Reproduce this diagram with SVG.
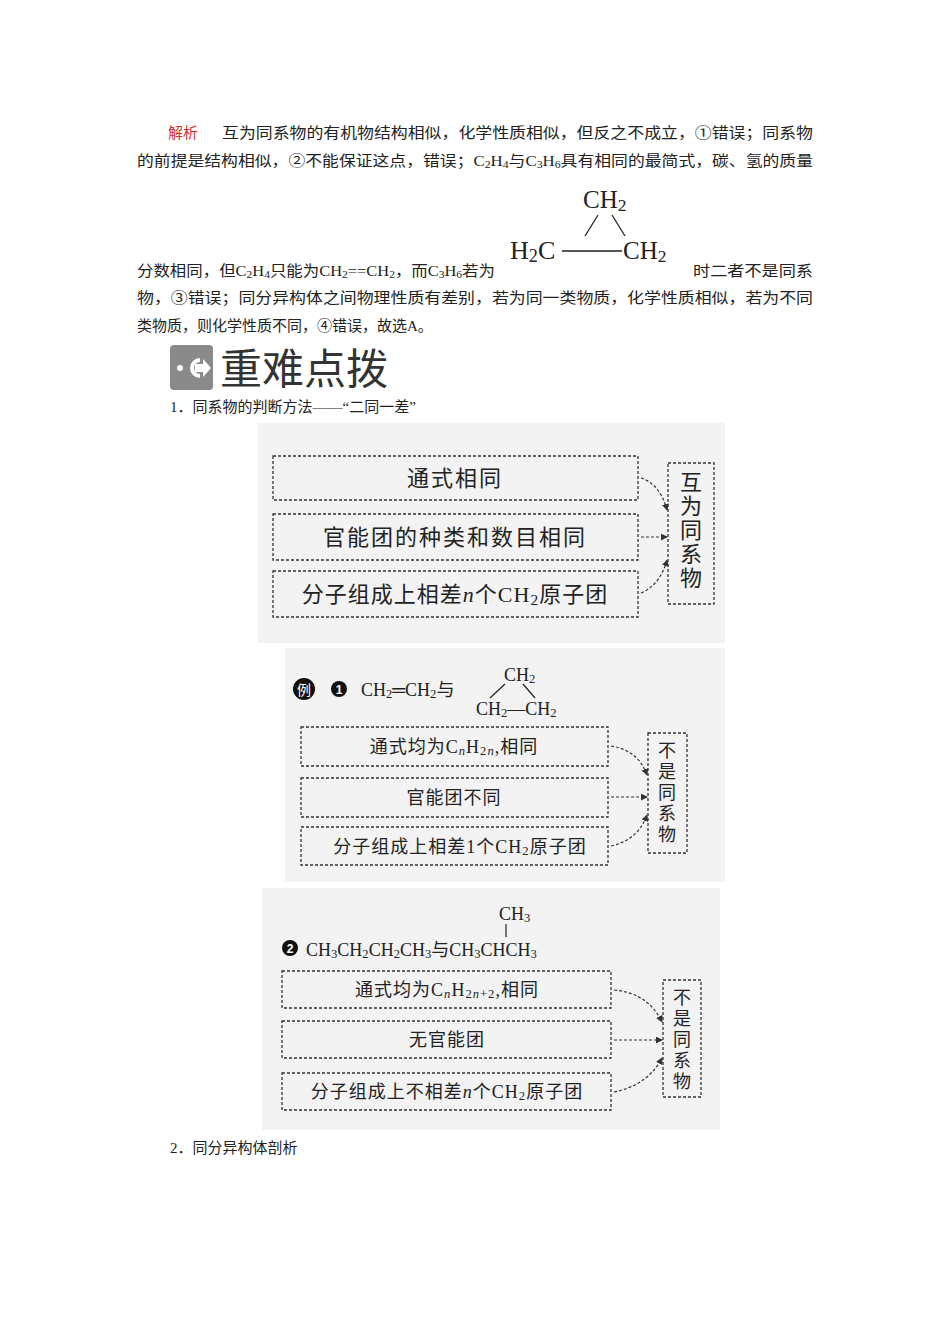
<svg xmlns="http://www.w3.org/2000/svg" width="950" height="1344" viewBox="0 0 950 1344">
<style>
.t{font-family:"Liberation Serif","Noto Sans CJK SC",serif;fill:#222}
.p{font-size:15px}
.b{fill:none;stroke:#333;stroke-width:1.3;stroke-dasharray:3,2}
.c{fill:none;stroke:#333;stroke-width:1.2;stroke-dasharray:3,2;marker-end:url(#a)}
.bg{fill:#f3f3f3}
.s{font-size:70%;baseline-shift:-18%}
</style>
<defs><marker id="a" viewBox="0 0 8 8" refX="7" refY="4" markerWidth="7" markerHeight="7" orient="auto" markerUnits="userSpaceOnUse"><path d="M0,0L8,4L0,8z" fill="#333"/></marker></defs>
<rect width="950" height="1344" fill="#fff"/>
<g id="para">
<text class="t p" x="168" y="138"><tspan fill="#d03030">解析</tspan></text>
<text class="t p" x="222" y="138" textLength="591" lengthAdjust="spacingAndGlyphs">互为同系物的有机物结构相似，化学性质相似，但反之不成立，①错误；同系物</text>
<text class="t p" x="137" y="166" textLength="676" lengthAdjust="spacingAndGlyphs">的前提是结构相似，②不能保证这点，错误；C<tspan class="s">2</tspan>H<tspan class="s">4</tspan>与C<tspan class="s">3</tspan>H<tspan class="s">6</tspan>具有相同的最简式，碳、氢的质量</text>
<text class="t p" x="137" y="276" textLength="358" lengthAdjust="spacingAndGlyphs">分数相同，但C<tspan class="s">2</tspan>H<tspan class="s">4</tspan>只能为CH<tspan class="s">2</tspan>==CH<tspan class="s">2</tspan>，而C<tspan class="s">3</tspan>H<tspan class="s">6</tspan>若为</text>
<text class="t" x="583" y="208" font-size="25">CH<tspan class="s">2</tspan></text>
<text class="t" x="510" y="259" font-size="26">H<tspan class="s">2</tspan>C</text>
<text class="t" x="623" y="259" font-size="25">CH<tspan class="s">2</tspan></text>
<path d="M598,215L585,236M612,215L625,236M562,251L622,251" stroke="#222" stroke-width="1.3" fill="none"/>
<text class="t p" x="693" y="276" textLength="120" lengthAdjust="spacingAndGlyphs">时二者不是同系</text>
<text class="t p" x="137" y="303" textLength="676" lengthAdjust="spacingAndGlyphs">物，③错误；同分异构体之间物理性质有差别，若为同一类物质，化学性质相似，若为不同</text>
<text class="t p" x="137" y="331">类物质，则化学性质不同，④错误，故选A。</text>
</g>
<g id="header">
<rect x="170" y="345" width="43" height="45" rx="4" fill="#8a8a8a"/>
<circle cx="180" cy="368" r="3" fill="#fff"/>
<path d="M200,360a8,8 0 1 0 0,16" stroke="#fff" stroke-width="4" fill="none"/>
<path d="M195,364h8v-5l8,9l-8,9v-5h-8z" fill="#fff"/>
<text x="220" y="384" font-size="42" fill="#333" style="font-family:'Noto Sans CJK SC',sans-serif">重难点拨</text>
<text class="t p" x="170" y="412">1．同系物的判断方法——“二同一差”</text>
</g>
<g id="diagram1">
<rect class="bg" x="258" y="423" width="467" height="220"/>
<g id="d1n1"><rect class="b" x="273" y="456" width="365" height="44"/><text class="t" x="455" y="486" font-size="22" text-anchor="middle" letter-spacing="2">通式相同</text></g>
<g id="d1n2"><rect class="b" x="273" y="514" width="365" height="46"/><text class="t" x="455" y="545" font-size="22" text-anchor="middle" letter-spacing="2">官能团的种类和数目相同</text></g>
<g id="d1n3"><rect class="b" x="273" y="571" width="365" height="46"/><text class="t" x="455" y="602" font-size="22" text-anchor="middle" letter-spacing="1">分子组成上相差<tspan font-style="italic">n</tspan>个CH<tspan class="s">2</tspan>原子团</text></g>
<g id="d1n4"><rect class="b" x="668" y="463" width="46" height="141"/><text class="t" x="691" y="490" font-size="22" text-anchor="middle"><tspan x="691">互</tspan><tspan x="691" dy="24">为</tspan><tspan x="691" dy="24">同</tspan><tspan x="691" dy="24">系</tspan><tspan x="691" dy="24">物</tspan></text></g>
</g>
<g id="diagram2">
<rect class="bg" x="285" y="648" width="440" height="234"/>
<circle cx="304" cy="689" r="11" fill="#111"/><text x="304" y="695" font-size="14" text-anchor="middle" fill="#fff" style="font-family:'Noto Sans CJK SC',sans-serif">例</text>
<circle cx="339" cy="689" r="8" fill="#111"/><text x="339" y="694" font-size="12" text-anchor="middle" fill="#fff" font-weight="bold" style="font-family:'Liberation Sans',sans-serif">1</text>
<text class="t" x="361" y="696" font-size="18">CH<tspan class="s">2</tspan>═CH<tspan class="s">2</tspan>与</text>
<text class="t" x="504" y="681" font-size="18">CH<tspan class="s">2</tspan></text>
<text class="t" x="476" y="715" font-size="18">CH<tspan class="s">2</tspan>—CH<tspan class="s">2</tspan></text>
<path d="M505,684L490,698M523,684L535,698" stroke="#222" stroke-width="1.2"/>
<g id="d2n1"><rect class="b" x="301" y="727" width="307" height="39"/><text class="t" x="454" y="753" font-size="18" text-anchor="middle" letter-spacing="1">通式均为C<tspan class="s" font-style="italic">n</tspan>H<tspan class="s">2<tspan font-style="italic">n</tspan></tspan>,相同</text></g>
<g id="d2n2"><rect class="b" x="301" y="778" width="307" height="39"/><text class="t" x="454" y="804" font-size="18" text-anchor="middle" letter-spacing="1">官能团不同</text></g>
<g id="d2n3"><rect class="b" x="301" y="827" width="307" height="38"/><text class="t" x="460" y="853" font-size="18" text-anchor="middle" letter-spacing="1">分子组成上相差1个CH<tspan class="s">2</tspan>原子团</text></g>
<g id="d2n4"><rect class="b" x="648" y="733" width="39" height="120"/><text class="t" x="667" y="757" font-size="18" text-anchor="middle"><tspan x="667">不</tspan><tspan x="667" dy="21">是</tspan><tspan x="667" dy="21">同</tspan><tspan x="667" dy="21">系</tspan><tspan x="667" dy="21">物</tspan></text></g>
</g>
<g id="diagram3">
<rect class="bg" x="262" y="888" width="458" height="242"/>
<circle cx="290" cy="948" r="8" fill="#111"/><text x="290" y="953" font-size="12" text-anchor="middle" fill="#fff" font-weight="bold" style="font-family:'Liberation Sans',sans-serif">2</text>
<text class="t" x="306" y="956" font-size="18">CH<tspan class="s">3</tspan>CH<tspan class="s">2</tspan>CH<tspan class="s">2</tspan>CH<tspan class="s">3</tspan>与CH<tspan class="s">3</tspan>CHCH<tspan class="s">3</tspan></text>
<text class="t" x="499" y="920" font-size="18">CH<tspan class="s">3</tspan></text>
<path d="M506,924V937" stroke="#222" stroke-width="1.2"/>
<g id="d3n1"><rect class="b" x="282" y="971" width="329" height="37"/><text class="t" x="447" y="996" font-size="18" text-anchor="middle" letter-spacing="1">通式均为C<tspan class="s" font-style="italic">n</tspan>H<tspan class="s">2<tspan font-style="italic">n</tspan>+2</tspan>,相同</text></g>
<g id="d3n2"><rect class="b" x="282" y="1021" width="329" height="37"/><text class="t" x="447" y="1046" font-size="18" text-anchor="middle" letter-spacing="1">无官能团</text></g>
<g id="d3n3"><rect class="b" x="282" y="1073" width="329" height="37"/><text class="t" x="447" y="1098" font-size="18" text-anchor="middle" letter-spacing="1">分子组成上不相差<tspan font-style="italic">n</tspan>个CH<tspan class="s">2</tspan>原子团</text></g>
<g id="d3n4"><rect class="b" x="663" y="980" width="38" height="117"/><text class="t" x="682" y="1004" font-size="18" text-anchor="middle"><tspan x="682">不</tspan><tspan x="682" dy="21">是</tspan><tspan x="682" dy="21">同</tspan><tspan x="682" dy="21">系</tspan><tspan x="682" dy="21">物</tspan></text></g>
<text class="t p" x="170" y="1153">2．同分异构体剖析</text>
</g>
<g id="connectors">
<path class="c" d="M641,478Q660,484 667,510"/>
<path class="c" d="M641,537H667"/>
<path class="c" d="M641,593Q660,585 667,560"/>
<path class="c" d="M611,746Q638,750 647,775"/>
<path class="c" d="M611,797H647"/>
<path class="c" d="M611,846Q638,840 647,815"/>
<path class="c" d="M614,990Q648,993 662,1022"/>
<path class="c" d="M614,1040H662"/>
<path class="c" d="M614,1092Q648,1085 662,1058"/>
</g>
</svg>
